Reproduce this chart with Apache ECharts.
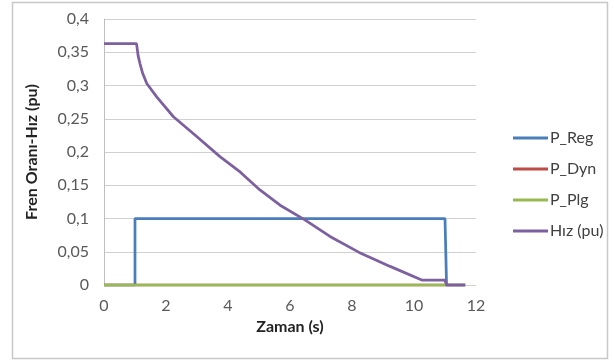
<!DOCTYPE html>
<html><head><meta charset="utf-8">
<script src="https://cdn.jsdelivr.net/npm/echarts@6/dist/echarts.min.js"></script>
<style>html,body{margin:0;padding:0;background:#fff}#c{width:614px;height:362px}</style>
</head><body><div id="c"></div>
<script>
const xTicks = [0, 2, 4, 6, 8, 10, 12];
const yTicks = [0, 0.05, 0.1, 0.15, 0.2, 0.25, 0.3, 0.35, 0.4];
const seriesNames = ['P_Reg', 'P_Dyn', 'P_Plg', 'Hız (pu)'];

const regTime = [0, 1.0, 1.0, 11.0, 11.05, 11.65];
const regVals = [0, 0, 0.1, 0.1, 0, 0];
const dynTime = [0, 11.65];
const dynVals = [0, 0];
const plgTime = [0, 11.65];
const plgVals = [0, 0];
const hizTime = [0, 1.05, 1.1, 1.16, 1.25, 1.38, 1.7, 2.24, 3.0, 3.74, 4.39, 5.03, 5.68, 6.48, 7.29, 8.23, 9.23, 10.25, 11.0, 11.05, 11.65];
const hizVals = [0.363, 0.363, 0.345, 0.333, 0.318, 0.303, 0.283, 0.253, 0.223, 0.193, 0.170, 0.143, 0.120, 0.098, 0.073, 0.049, 0.028, 0.0075, 0.0075, 0, 0];

const colors = ['#4A7EBB', '#BE4B48', '#98B954', '#7D60A0'];
const pair = (t, v) => t.map((x, i) => [x, v[i]]);
const dataSets = [pair(regTime, regVals), pair(dynTime, dynVals), pair(plgTime, plgVals), pair(hizTime, hizVals)];
const fmt = v => String(+v.toFixed(2)).replace('.', ',');
const FONT = 'Lato';

const chart = echarts.init(document.getElementById('c'), null, {renderer: 'canvas'});
chart.setOption({
  animation: false,
  textStyle: {fontFamily: FONT},
  graphic: [{type: 'rect', shape: {x: 12.5, y: 2.5, width: 595, height: 356}, style: {fill: 'none', stroke: '#C8C8C8', lineWidth: 1.5}, z: -1}],
  grid: {left: 104, right: 138, top: 19, bottom: 77, containLabel: false},
  legend: {
    orient: 'vertical', left: 508, top: 125, itemGap: 15,
    itemWidth: 35, itemHeight: 3, icon: 'rect',
    textStyle: {fontFamily: FONT, fontSize: 16, color: '#404040', padding: [0, 0, 0, -3]},
    data: seriesNames
  },
  xAxis: {
    type: 'value', min: xTicks[0], max: xTicks[xTicks.length - 1], interval: 2,
    name: 'Zaman (s)', nameLocation: 'middle', nameGap: 34,
    nameTextStyle: {fontFamily: FONT, fontWeight: 'bold', fontSize: 16, color: '#222'},
    axisLine: {show: false}, axisTick: {show: false},
    splitLine: {show: false},
    axisLabel: {fontFamily: FONT, fontSize: 16, color: '#595959', margin: 13, formatter: fmt}
  },
  yAxis: {
    type: 'value', min: yTicks[0], max: yTicks[yTicks.length - 1], interval: 0.05,
    name: 'Fren Oranı-Hız (pu)', nameLocation: 'middle', nameGap: 64, nameRotate: 90,
    nameTextStyle: {fontFamily: FONT, fontWeight: 'bold', fontSize: 16, color: '#222'},
    axisLine: {show: true, lineStyle: {color: '#BFBFBF', width: 1}}, axisTick: {show: false},
    splitLine: {show: true, lineStyle: {color: '#D0D0D0', width: 1}},
    axisLabel: {fontFamily: FONT, fontSize: 16, color: '#595959', margin: 15, formatter: fmt}
  },
  series: seriesNames.map((n, i) => ({
    name: n, type: 'line', data: dataSets[i], showSymbol: false, symbol: 'none',
    lineStyle: {color: colors[i], width: 2.75}, itemStyle: {color: colors[i]},
    z: 2 + i
  }))
});
</script></body></html>
